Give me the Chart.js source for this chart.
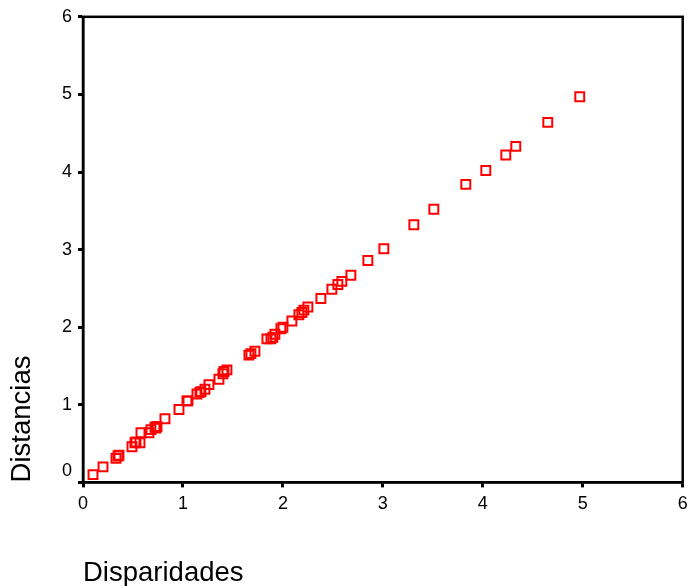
<!DOCTYPE html>
<html>
<head>
<meta charset="utf-8">
<script src="https://cdn.jsdelivr.net/npm/chart.js@4/dist/chart.umd.min.js"></script>
<style>
  html, body { margin: 0; padding: 0; background: #fff; }
  #wrap { width: 691px; height: 586px; }
</style>
</head>
<body>
<div id="wrap"><canvas id="grafico" width="691" height="586"></canvas></div>
<script>
// Disparidades (eje x) y distancias (eje y)
var disparidades = [0.10, 0.20, 0.33, 0.35, 0.36, 0.49, 0.52, 0.53, 0.57, 0.58,
                    0.66, 0.68, 0.72, 0.73, 0.74, 0.82, 0.96, 1.04, 1.05, 1.14,
                    1.17, 1.18, 1.22, 1.26, 1.36, 1.40, 1.41, 1.44, 1.66, 1.68,
                    1.72, 1.84, 1.88, 1.90, 1.92, 1.98, 2.00, 2.09, 2.16, 2.19,
                    2.21, 2.25, 2.38, 2.49, 2.55, 2.59, 2.68, 2.85, 3.01, 3.31,
                    3.51, 3.83, 4.03, 4.23, 4.33, 4.65, 4.97];
var distancias  = [0.10, 0.20, 0.31, 0.34, 0.35, 0.46, 0.51, 0.52, 0.51, 0.64,
                   0.64, 0.68, 0.71, 0.70, 0.72, 0.82, 0.94, 1.05, 1.05, 1.14,
                   1.16, 1.17, 1.20, 1.26, 1.33, 1.40, 1.43, 1.45, 1.64, 1.66,
                   1.69, 1.85, 1.85, 1.87, 1.91, 1.98, 2.00, 2.08, 2.16, 2.19,
                   2.22, 2.26, 2.37, 2.49, 2.55, 2.59, 2.67, 2.86, 3.01, 3.32,
                   3.52, 3.84, 4.02, 4.22, 4.33, 4.64, 4.97];
var ticksEje = [0, 1, 2, 3, 4, 5, 6];

var puntos = disparidades.map(function (d, i) { return { x: d, y: distancias[i] }; });

// marco completo alrededor del area del grafico
var marco = {
    id: 'marco',
    beforeDraw: function (chart) {
        // el "0" del eje y va un poco mas arriba, como en el original
        var items = chart.scales.y.getLabelItems(chart.chartArea);
        if (items.length) items[0].options.translation[1] -= 11;
    },
    afterDraw: function (chart) {
        var a = chart.chartArea, ctx = chart.ctx;
        ctx.save();
        ctx.strokeStyle = '#000';
        ctx.lineWidth = 2.5;
        ctx.strokeRect(a.left, a.top, a.right - a.left, a.bottom - a.top);
        ctx.restore();
    }
};

var ejeComun = function (titulo) {
    return {
        type: 'linear',
        min: 0,
        max: 6,
        afterBuildTicks: function (scale) {
            scale.ticks = ticksEje.map(function (v) { return { value: v }; });
        },
        grid: {
            drawOnChartArea: false,
            tickLength: 5,
            tickWidth: 3,
            tickColor: '#000'
        },
        border: { display: true, color: '#000', width: 2.5 },
        ticks: {
            color: '#000',
            padding: 6,
            font: { family: 'Liberation Sans', size: 18 }
        },
        title: {
            display: true,
            text: titulo,
            align: 'start',
            color: '#000',
            font: { family: 'Liberation Sans', size: 27.5 }
        }
    };
};

var ejeX = ejeComun('Disparidades');
ejeX.title.padding = { top: 36, bottom: 0 };
ejeX.afterFit = function (scale) {
    scale.paddingRight = 0; // el "6" final puede salir casi hasta el borde
};
var ejeY = ejeComun('Distancias');
ejeY.title.padding = { top: 0, bottom: 17 };

new Chart(document.getElementById('grafico').getContext('2d'), {
    type: 'scatter',
    data: {
        datasets: [{
            label: 'Distancias',
            data: puntos,
            pointStyle: 'rect',
            pointRadius: 6.3,
            pointHoverRadius: 6.3,
            borderColor: '#ff0000',
            backgroundColor: 'rgba(255,255,255,0)',
            pointBorderWidth: 2
        }]
    },
    options: {
        responsive: false,
        animation: false,
        layout: { padding: { left: 6, right: 5, top: 9, bottom: -4 } },
        plugins: {
            legend: { display: false },
            tooltip: { enabled: false }
        },
        scales: { x: ejeX, y: ejeY }
    },
    plugins: [marco]
});
</script>
</body>
</html>
